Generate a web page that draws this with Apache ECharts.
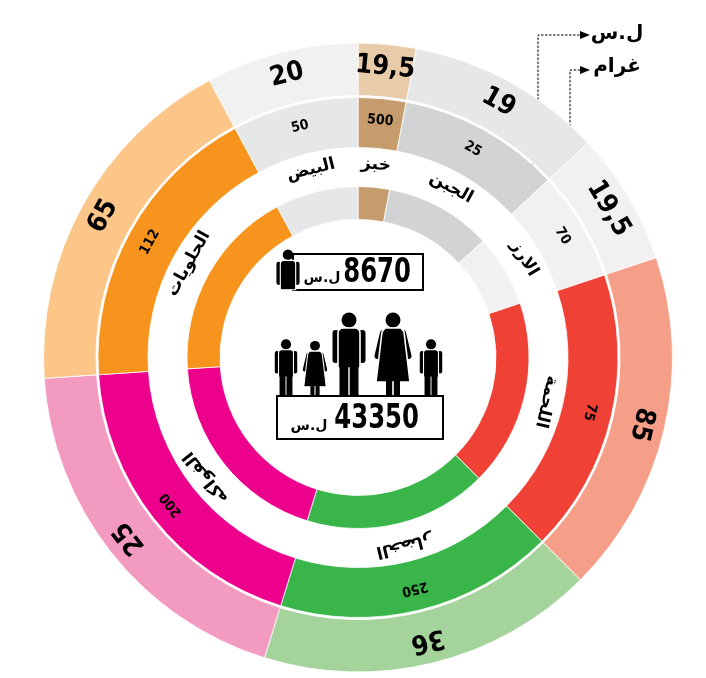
<!DOCTYPE html>
<html>
<head>
    <meta charset="utf-8">
    <title>سلة الغذاء</title>
    <script type="text/javascript" src="https://cdn.jsdelivr.net/npm/echarts@6/dist/echarts.min.js"></script>
    <style>
        html, body { margin: 0; padding: 0; background: #fff; }
    </style>
</head>

<body>
    <div id="main" style="width:706px;height:678px;"></div>
    <script type="text/javascript">
    // food items, clockwise from 12 o'clock
    var items = ['خبز', 'الجبن', 'الارز', 'اللحمة', 'الخضار', 'الفواكه', 'الحلويات', 'البيض'];
    // angular share of each item (degrees)
    var shareDeg = [10.7, 36.3, 24.5, 63.5, 62.3, 68.9, 65.6, 28.2];
    // price in ل.س (outer ring)
    var priceSYP = [19.5, 19, 19.5, 85, 36, 25, 65, 20];
    // quantity in grams (middle ring)
    var grams = [500, 25, 70, 75, 250, 200, 112, 50];
    var costPerson = 8670;
    var costFamily = 43350;

    var outerColors = ['#e8cba9', '#e6e7e8', '#f1f1f2', '#f69f88', '#a4d39c', '#f39ac1', '#fdc689', '#f1f1f2'];
    var midColors   = ['#c69c6d', '#d1d3d4', '#f1f1f2', '#ef4136', '#39b54a', '#ec008c', '#f7941d', '#e6e7e8'];
    var innerColors = ['#c69c6d', '#d1d3d4', '#f1f1f2', '#ef4136', '#39b54a', '#ec008c', '#f7941d', '#e6e7e8'];

    var numFont = "'DejaVu Sans Condensed', 'DejaVu Sans', sans-serif";
    var arFont = "'DejaVu Sans', 'Noto Sans', sans-serif";
    var C = [358, 357.5];

    // mid angle of each slice, used to turn the labels
    var total = 0;
    for (var i = 0; i < shareDeg.length; i++) total += shareDeg[i];
    var midAngle = [];
    var acc = 0;
    for (var i = 0; i < shareDeg.length; i++) {
        midAngle.push((acc + shareDeg[i] / 2) / total * 360);
        acc += shareDeg[i];
    }

    function ringData(colors) {
        var arr = [];
        for (var i = 0; i < items.length; i++) {
            arr.push({
                name: items[i],
                value: shareDeg[i],
                itemStyle: { color: colors[i] },
                label: { rotate: -midAngle[i] }
            });
        }
        return arr;
    }

    function ring(radius, colors, label) {
        return {
            type: 'pie',
            center: C,
            radius: radius,
            startAngle: 90,
            clockwise: true,
            silent: true,
            animation: false,
            avoidLabelOverlap: false,
            itemStyle: { borderColor: '#fff', borderWidth: 0.8 },
            label: label,
            labelLine: { show: false },
            emphasis: { disabled: true },
            data: ringData(colors)
        };
    }

    var clear = [];
    for (var i = 0; i < items.length; i++) clear.push('rgba(255,255,255,0)');

    var series = [
        ring([262, 314.5], outerColors, {
            show: true, position: 'inside', color: '#000',
            fontFamily: numFont, fontWeight: 'bold', fontSize: 27,
            formatter: function (p) { return String(priceSYP[p.dataIndex]).replace('.', ','); }
        }),
        ring([210, 260], midColors, {
            show: true, position: 'inside', color: '#000',
            fontFamily: numFont, fontWeight: 'bold', fontSize: 14,
            formatter: function (p) { return String(grams[p.dataIndex]); }
        }),
        ring([171, 210], clear, {
            show: true, position: 'inside', color: '#000',
            fontFamily: arFont, fontWeight: 'bold', fontSize: 17,
            formatter: function (p) { return p.name; }
        }),
        ring([138, 171], innerColors, { show: false })
    ];
    series[2].itemStyle = { borderWidth: 0 };

    // pictogram figures (decoration)
    function male(cx, footY, s) {
        return {
            type: 'group', x: cx, y: footY, scaleX: s, scaleY: s,
            children: [
                { type: 'circle', shape: { cx: 0, cy: -76, r: 7.5 }, style: { fill: '#000' } },
                { type: 'rect', shape: { x: -16.5, y: -66, width: 6.5, height: 33, r: 3 }, style: { fill: '#000' } },
                { type: 'rect', shape: { x: 10, y: -66, width: 6.5, height: 33, r: 3 }, style: { fill: '#000' } },
                { type: 'rect', shape: { x: -11, y: -68, width: 22, height: 40, r: [5, 5, 0, 0] }, style: { fill: '#000', stroke: '#fff', lineWidth: 1.6 } },
                { type: 'rect', shape: { x: -9.5, y: -30, width: 8.8, height: 30 }, style: { fill: '#000' } },
                { type: 'rect', shape: { x: 0.7, y: -30, width: 8.8, height: 30 }, style: { fill: '#000' } }
            ]
        };
    }
    function female(cx, footY, s) {
        return {
            type: 'group', x: cx, y: footY, scaleX: s, scaleY: s,
            children: [
                { type: 'circle', shape: { cx: 0, cy: -76, r: 7.5 }, style: { fill: '#000' } },
                { type: 'line', shape: { x1: -10, y1: -63, x2: -15.5, y2: -40 }, style: { stroke: '#000', lineWidth: 6, lineCap: 'round' } },
                { type: 'line', shape: { x1: 10, y1: -63, x2: 15.5, y2: -40 }, style: { stroke: '#000', lineWidth: 6, lineCap: 'round' } },
                { type: 'polygon', shape: { points: [[-8, -68], [8, -68], [11, -64], [17, -14], [-17, -14], [-11, -64]] }, style: { fill: '#000', stroke: '#fff', lineWidth: 1.6 } },
                { type: 'rect', shape: { x: -7, y: -15, width: 6.2, height: 15 }, style: { fill: '#000' } },
                { type: 'rect', shape: { x: 0.8, y: -15, width: 6.2, height: 15 }, style: { fill: '#000' } }
            ]
        };
    }

    var graphic = [
        // single person box
        { type: 'rect', shape: { x: 293, y: 254, width: 130, height: 36 }, style: { fill: '#fff', stroke: '#000', lineWidth: 2 } },
        {
            type: 'group', x: 288, y: 308, scaleX: 0.7, scaleY: 0.7,
            children: [
                { type: 'circle', shape: { cx: 0, cy: -76, r: 7.5 }, style: { fill: '#000' } },
                { type: 'rect', shape: { x: -16.5, y: -66, width: 6.5, height: 33, r: 3 }, style: { fill: '#000' } },
                { type: 'rect', shape: { x: 10, y: -66, width: 6.5, height: 33, r: 3 }, style: { fill: '#000' } },
                { type: 'rect', shape: { x: -11, y: -68, width: 22, height: 42, r: [5, 5, 0, 0] }, style: { fill: '#000', stroke: '#fff', lineWidth: 1.6 } }
            ]
        },
        { type: 'text', x: 411, y: 273, scaleX: 0.82, style: { text: String(costPerson), fill: '#000', font: "bold 33px " + numFont, textAlign: 'right', textVerticalAlign: 'middle' } },
        { type: 'text', x: 322, y: 278, style: { text: 'ل.س', fill: '#000', font: "bold 14px " + arFont, textAlign: 'center', textVerticalAlign: 'middle' } },

        // family
        male(286, 396, 0.68),
        female(315, 396, 0.66),
        male(349, 396, 1),
        female(393, 396, 1),
        male(431, 396, 0.68),
        { type: 'rect', shape: { x: 277, y: 396, width: 166, height: 43 }, style: { fill: 'none', stroke: '#000', lineWidth: 2 } },
        { type: 'text', x: 419, y: 419, scaleX: 0.82, style: { text: String(costFamily), fill: '#000', font: "bold 33px " + numFont, textAlign: 'right', textVerticalAlign: 'middle' } },
        { type: 'text', x: 309, y: 426, style: { text: 'ل.س', fill: '#000', font: "bold 14px " + arFont, textAlign: 'center', textVerticalAlign: 'middle' } },

        // unit keys
        { type: 'polyline', shape: { points: [[538, 120], [538, 35], [582, 35]] }, style: { stroke: '#000', lineWidth: 1, lineDash: [2.5, 1.5], fill: 'none' } },
        { type: 'polygon', shape: { points: [[580, 31], [590, 35], [580, 39]] }, style: { fill: '#000' } },
        { type: 'text', x: 617, y: 34, style: { text: 'ل.س', fill: '#000', font: "bold 20px " + arFont, textAlign: 'center', textVerticalAlign: 'middle' } },
        { type: 'polyline', shape: { points: [[525, 172], [570, 126], [570, 70], [582, 70]] }, style: { stroke: '#000', lineWidth: 1, lineDash: [2.5, 1.5], fill: 'none' } },
        { type: 'polygon', shape: { points: [[580, 66], [590, 70], [580, 74]] }, style: { fill: '#000' } },
        { type: 'text', x: 617, y: 67, style: { text: 'غرام', fill: '#000', font: "bold 20px " + arFont, textAlign: 'center', textVerticalAlign: 'middle' } }
    ];

    var myChart = echarts.init(document.getElementById('main'));
    myChart.setOption({
        backgroundColor: '#fff',
        animation: false,
        series: series,
        graphic: graphic
    });
    </script>
</body>
</html>
